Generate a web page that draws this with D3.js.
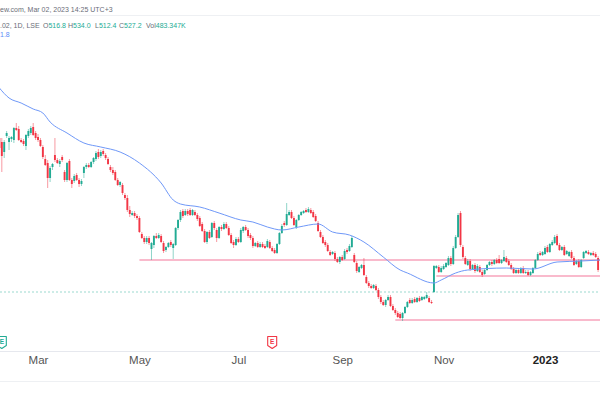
<!DOCTYPE html>
<html lang="en">
<head>
<meta charset="UTF-8">
<title>LSE 1D candles</title>
<script src="https://d3js.org/d3.v7.min.js"></script>
<style>
  body { margin: 0; background: #fff; }
  svg { display: block; font-family: "Liberation Sans", Arial, sans-serif; }
</style>
</head>
<body>
<div id="chart"></div>
<script>
// bar index of the first session of each labelled month
const tickBars = [16, 58, 99, 142, 184, 226];
const tickLabels = ["Mar", "May", "Jul", "Sep", "Nov", "2023"];

// daily candles, [open, high, low, close]
const ohlc = [
  [835,869,807,815],[827,835,767,799],[807,831,795,827],[839,849,835,845],[827,839,811,835],
  [833,839,827,837],[831,857,825,855],[855,865,849,851],[853,859,829,831],[831,835,825,827],
  [829,833,819,823],[819,843,811,841],[839,853,835,849],[845,859,841,855],[857,865,839,841],
  [845,849,831,835],[837,843,827,831],[831,835,817,819],[817,821,793,797],[793,801,779,781],
  [785,791,735,755],[755,779,747,775],[777,785,771,783],[801,835,787,791],[791,795,783,785],
  [783,793,777,789],[797,801,787,791],[767,771,747,751],[751,787,747,785],[789,793,749,751],
  [751,755,735,743],[749,763,745,759],[761,765,749,751],[751,755,737,743],[743,753,739,749],
  [765,779,755,777],[777,785,773,781],[781,785,775,777],[777,789,775,787],[787,797,783,795],
  [793,809,789,805],[807,813,793,797],[799,811,795,807],[809,813,799,803],[801,805,791,795],
  [793,797,781,783],[777,781,767,771],[771,777,761,765],[767,771,749,751],[751,755,739,741],
  [741,749,737,747],[741,745,721,725],[721,725,711,715],[715,721,687,691],[691,699,677,683],
  [681,689,679,685],[685,689,675,679],[679,683,671,675],[675,679,645,647],[643,647,633,635],
  [635,639,623,627],[627,639,623,635],[635,639,621,625],[613,627,591,625],[621,641,615,639],
  [639,645,633,635],[635,645,633,641],[639,643,625,627],[625,629,605,609],[611,619,607,617],
  [617,627,615,625],[627,631,617,621],[615,625,593,623],[621,657,619,655],[655,673,651,671],
  [671,691,667,687],[689,693,675,679],[681,693,679,689],[689,693,679,683],[691,695,679,681],
  [681,693,679,691],[687,691,679,681],[681,685,669,673],[675,679,657,659],[663,667,647,649],
  [649,653,625,627],[627,649,623,647],[647,651,633,635],[637,667,635,665],[665,669,651,655],
  [651,655,627,635],[635,659,633,657],[657,661,649,653],[653,667,651,663],[663,667,653,655],
  [655,659,639,641],[641,645,623,625],[627,631,615,621],[621,637,619,633],[633,637,625,627],
  [627,655,625,651],[649,659,645,657],[657,661,649,651],[651,655,635,639],[641,645,631,635],
  [635,639,615,619],[619,627,617,625],[625,629,615,617],[617,627,615,623],[623,627,615,617],
  [619,623,613,615],[617,633,615,629],[627,631,613,615],[615,619,607,609],[611,615,603,605],
  [605,625,603,623],[623,647,621,645],[645,663,643,659],[665,669,657,661],[661,705,659,683],
  [681,691,679,687],[687,691,673,675],[675,679,659,661],[657,673,653,671],[671,683,669,681],
  [681,689,679,687],[685,691,683,689],[691,695,685,687],[687,697,685,693],[691,695,683,685],
  [687,691,675,677],[679,683,667,669],[665,669,647,649],[647,651,635,637],[637,641,623,625],
  [627,631,617,621],[621,625,607,609],[607,611,599,601],[603,609,601,607],[605,609,589,593],
  [593,597,585,587],[587,599,583,597],[597,601,589,591],[593,613,591,609],[611,615,603,607],
  [609,623,607,619],[617,639,615,635],[601,605,585,587],[585,589,565,569],[567,579,565,577],
  [575,583,573,581],[581,595,559,561],[557,561,543,545],[545,549,535,539],[539,543,533,535],
  [535,543,533,541],[539,543,529,531],[531,535,513,517],[517,521,503,507],[507,511,499,501],
  [501,513,497,511],[511,521,509,517],[517,521,497,499],[499,503,489,491],[491,495,481,485],
  [485,489,475,477],[483,487,473,475],[475,487,469,485],[485,499,483,497],[497,509,495,507],
  [511,515,503,505],[505,515,503,511],[513,517,505,507],[507,517,505,515],[515,519,507,509],
  [511,519,509,517],[513,519,511,517],[515,527,513,521],[515,519,505,507],[507,511,503,505],
  [527,581,525,579],[575,581,573,579],[577,581,565,567],[567,579,565,575],[573,583,571,579],
  [577,587,575,585],[581,599,579,595],[595,599,579,583],[583,619,581,615],[615,641,613,637],
  [637,685,635,681],[685,689,617,621],[617,621,593,597],[595,599,581,583],[581,593,579,589],
  [589,593,569,573],[573,583,571,581],[581,585,565,569],[569,583,567,579],[577,581,565,567],
  [567,571,557,561],[563,573,561,571],[571,583,569,581],[581,589,579,587],[587,591,579,583],
  [583,593,581,591],[591,595,583,585],[593,601,583,585],[585,593,583,591],[589,611,587,597],
  [595,599,585,587],[589,593,579,581],[581,585,571,573],[573,577,563,565],[565,573,563,571],
  [571,575,563,565],[565,577,563,575],[575,579,563,565],[565,571,563,567],[567,571,559,561],
  [561,569,559,567],[565,577,563,575],[575,593,573,591],[591,607,589,603],[605,609,599,601],
  [601,609,599,607],[603,619,601,615],[617,621,605,607],[607,625,605,623],[621,631,619,627],
  [625,641,623,637],[639,643,619,621],[621,625,609,611],[611,619,609,617],[617,621,599,601],
  [603,611,601,609],[599,609,597,607],[607,611,593,595],[595,599,579,581],[583,591,581,589],
  [589,593,575,577],[577,593,575,591],[595,609,593,607],[605,611,603,609],[607,611,601,603],
  [601,607,599,605],[605,609,599,601],[603,607,595,597],[595,599,567,571]
];

// moving average at these bars
const maBars = [0, 4, 9, 14, 18, 21, 28, 35, 42, 50, 58, 67, 72, 75, 83, 91, 100, 105, 111, 117,
  124, 132, 138, 145, 151, 159, 166, 169, 180, 183, 189, 194, 210, 221, 231, 241, 249];
const maValues = [935, 915, 905, 893, 885, 867, 845, 825, 817, 807, 785, 745, 711, 703, 697, 685, 671, 667, 657, 651,
  657, 663, 647, 641, 627, 597, 571, 565, 545, 551, 565, 571, 575, 573, 587, 589, 591];

// drawn horizontal rays: price level and the bar they start at
const levelPrices = [591, 559, 471];
const levelStarts = [58, 181, 164];

const lastPrice = 527;
const earningsBars = [1, 113];
const earningsBeat = [true, false];

const width = 600, height = 395;
const up = "#22ab94", down = "#f23645";

const svg = d3.select("#chart").append("svg")
    .attr("width", width)
    .attr("height", height);

svg.append("rect").attr("width", width).attr("height", height).attr("fill", "#fff");

const x = d3.scaleLinear().domain([0, 248]).range([-0.6, 598.1]);
const y = d3.scaleLinear().domain([431, 951]).range([340, 80]);

// header
const head = svg.append("g").attr("font-size", 7);
head.append("text").attr("x", 0).attr("y", 11.5).attr("fill", "#6a6d78")
    .text("ew.com, Mar 02, 2023 14:25 UTC+3");
head.append("line").attr("x1", 0).attr("x2", width).attr("y1", 15.5).attr("y2", 15.5)
    .attr("stroke", "#eef0f3");
const info = head.append("text").attr("y", 28).attr("fill", "#6a6d78");
info.append("tspan").attr("x", 0).text(".02, 1D, LSE");
[["O", "516.8", 43], ["H", "534.0", 68], ["L", "512.4", 95], ["C", "527.2", 119], ["Vol", "483.347K", 146]]
  .forEach(([k, v, px]) => {
    info.append("tspan").attr("x", px).text(k);
    info.append("tspan").attr("fill", up).text(v);
  });
head.append("text").attr("x", 0).attr("y", 37).attr("fill", "#5b8cf7").text("1.8");

// last price line
svg.append("line")
    .attr("x1", 0).attr("x2", width)
    .attr("y1", y(lastPrice)).attr("y2", y(lastPrice))
    .attr("stroke", up).attr("stroke-opacity", 0.45)
    .attr("stroke-dasharray", "2,2");

// horizontal rays
svg.selectAll(".level")
    .data(levelPrices)
    .enter().append("line")
    .attr("class", "level")
    .attr("x1", (d, i) => x(levelStarts[i]))
    .attr("x2", width)
    .attr("y1", d => y(d)).attr("y2", d => y(d))
    .attr("stroke", "#f7a3bb")
    .attr("stroke-width", 1.4);

// candles
const bars = svg.append("g").selectAll("g")
    .data(ohlc)
    .enter().append("g");

bars.append("line")
    .attr("x1", (d, i) => x(i)).attr("x2", (d, i) => x(i))
    .attr("y1", d => y(d[1])).attr("y2", d => y(d[2]))
    .attr("stroke", d => d[3] >= d[0] ? up : down)
    .attr("stroke-opacity", 0.5)
    .attr("stroke-width", 1);

bars.append("rect")
    .attr("x", (d, i) => x(i) - 0.95)
    .attr("width", 1.9)
    .attr("y", d => y(Math.max(d[0], d[3])))
    .attr("height", d => Math.max(1, Math.abs(y(d[0]) - y(d[3]))))
    .attr("fill", d => d[3] >= d[0] ? up : down);

// moving average
svg.append("path")
    .datum(maBars.map((b, i) => [b, maValues[i]]))
    .attr("fill", "none")
    .attr("stroke", "#6f98f8")
    .attr("stroke-width", 1)
    .attr("d", d3.line()
        .x(d => x(d[0]))
        .y(d => y(d[1]))
        .curve(d3.curveMonotoneX));

// earnings badges
const badge = svg.selectAll(".earn")
    .data(earningsBars)
    .enter().append("g")
    .attr("class", "earn")
    .attr("transform", d => `translate(${x(d)},336)`);
badge.append("path")
    .attr("d", "M-4.5,0.5 H4.5 V9.5 L0,12.5 L-4.5,9.5 Z")
    .attr("fill", "#fff")
    .attr("stroke", (d, i) => earningsBeat[i] ? up : down)
    .attr("stroke-width", 1.1)
    .attr("stroke-linejoin", "round");
badge.append("text")
    .attr("y", 8.3)
    .attr("text-anchor", "middle")
    .attr("font-size", 6.5)
    .attr("font-weight", "bold")
    .attr("fill", (d, i) => earningsBeat[i] ? up : down)
    .text("E");

// time axis
svg.append("line").attr("x1", 0).attr("x2", width).attr("y1", 351.5).attr("y2", 351.5)
    .attr("stroke", "#e6e8ee");
svg.append("line").attr("x1", 0).attr("x2", width).attr("y1", 381.5).attr("y2", 381.5)
    .attr("stroke", "#eef0f3");

const axis = svg.append("g")
    .attr("transform", "translate(0,356)")
    .call(d3.axisBottom(x)
        .tickValues(tickBars)
        .tickFormat((d, i) => tickLabels[i])
        .tickSize(0)
        .tickPadding(0));
axis.select(".domain").remove();
axis.selectAll("text")
    .attr("dy", "0.72em")
    .attr("font-family", "\"Liberation Sans\", Arial, sans-serif")
    .attr("font-size", 11.5)
    .attr("fill", (d, i) => tickLabels[i] === "2023" ? "#222" : "#555")
    .attr("font-weight", (d, i) => tickLabels[i] === "2023" ? "bold" : "normal");
</script>
</body>
</html>
